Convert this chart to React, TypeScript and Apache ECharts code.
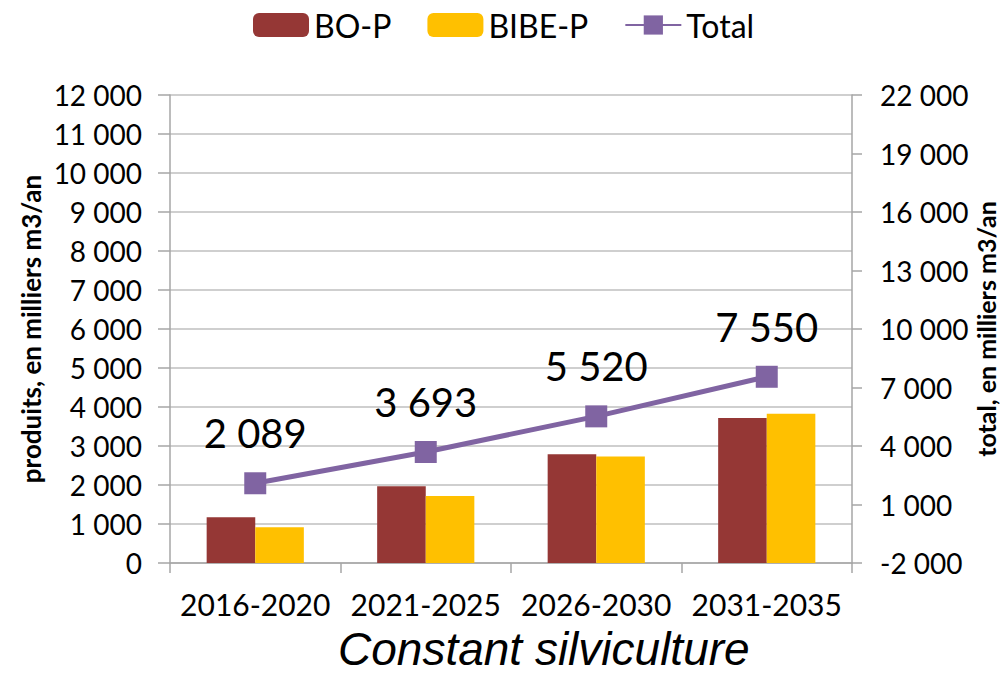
import React, { useEffect, useRef } from "react";
import * as echarts from "echarts";

const categories = ["2016-2020", "2021-2025", "2026-2030", "2031-2035"];
const boP = [1170, 1970, 2790, 3720];
const bibeP = [919, 1720, 2730, 3830];
const total = [2089, 3693, 5520, 7550];
const rightTicks = [-2000, 1000, 4000, 7000, 10000, 13000, 16000, 19000, 22000];

const fmt = (v: number) => {
  const s = Math.abs(Math.round(v)).toString().replace(/\B(?=(\d{3})+(?!\d))/g, " ");
  return (v < 0 ? "-" : "") + s;
};

const FONT = "Lato";
const AXIS = "#A6A6A6";
const GRID = "#BFBFBF";

export default function App() {
  const ref = useRef<HTMLDivElement>(null);
  useEffect(() => {
    if (!ref.current) return;
    const chart = echarts.init(ref.current, null, { renderer: "svg" });
    chart.setOption({
      animation: false,
      backgroundColor: "#ffffff",
      title: {
        text: "Constant silviculture",
        left: 338,
        top: 628,
        padding: 0,
        textStyle: {
          fontSize: 46,
          lineHeight: 42,
          fontStyle: "italic",
          fontWeight: "normal",
          fontFamily: "Liberation Sans",
          color: "#000",
        },
      },
      legend: {
        left: 248,
        top: 4,
        itemWidth: 56,
        itemHeight: 24,
        itemGap: 36,
        textStyle: { fontSize: 32, fontFamily: FONT, color: "#000" },
        data: ["BO-P", "BIBE-P", "Total"],
      },
      grid: {
        left: 170,
        right: 150,
        top: 95,
        bottom: 112,
        containLabel: false,
        outerBoundsMode: "none",
      },
      xAxis: {
        type: "category",
        data: categories,
        boundaryGap: true,
        axisLine: { lineStyle: { color: AXIS, width: 1.5 } },
        axisTick: { show: true, length: 10, lineStyle: { color: AXIS, width: 1.5 } },
        axisLabel: { interval: 0, fontSize: 30, fontFamily: FONT, color: "#000", margin: 26 },
      },
      yAxis: [
        {
          type: "value",
          min: 0,
          max: 12000,
          interval: 1000,
          position: "left",
          name: "produits, en milliers m3/an",
          nameLocation: "middle",
          nameGap: 126,
          nameRotate: 90,
          nameMoveOverlap: false,
          nameTextStyle: { fontSize: 26, fontWeight: "bold", fontFamily: FONT, color: "#000" },
          axisLine: { show: true, lineStyle: { color: AXIS, width: 1.5 } },
          axisTick: { show: true, length: 12, lineStyle: { color: AXIS, width: 1.5 } },
          axisLabel: { fontSize: 28, fontFamily: FONT, color: "#000", margin: 28, formatter: (v: number) => fmt(v) },
          splitLine: { show: true, lineStyle: { color: GRID, width: 1.5 } },
        },
        {
          type: "value",
          min: -2000,
          max: 22000,
          position: "right",
          name: "total, en milliers m3/an",
          nameLocation: "middle",
          nameGap: 121,
          nameRotate: 90,
          nameMoveOverlap: false,
          nameTextStyle: { fontSize: 25, fontWeight: "bold", fontFamily: FONT, color: "#000" },
          axisLine: { show: true, lineStyle: { color: AXIS, width: 1.5 } },
          axisTick: { show: true, length: 10, customValues: rightTicks, lineStyle: { color: AXIS, width: 1.5 } },
          axisLabel: {
            fontSize: 28,
            fontFamily: FONT,
            color: "#000",
            margin: 28,
            customValues: rightTicks,
            formatter: (v: number) => fmt(v),
          },
          splitLine: { show: false },
        },
      ],
      series: [
        {
          name: "BO-P",
          type: "bar",
          data: boP,
          itemStyle: { color: "#953735" },
          barGap: "0%",
          barCategoryGap: "43%",
        },
        {
          name: "BIBE-P",
          type: "bar",
          data: bibeP,
          itemStyle: { color: "#FFC000" },
          barGap: "0%",
          barCategoryGap: "43%",
        },
        {
          name: "Total",
          type: "line",
          yAxisIndex: 1,
          data: total,
          symbol: "rect",
          symbolSize: 22,
          lineStyle: { color: "#8064A2", width: 5 },
          itemStyle: { color: "#8064A2" },
          label: {
            show: true,
            position: "top",
            distance: 19,
            fontSize: 40,
            fontFamily: FONT,
            color: "#000",
            formatter: (p: any) => fmt(p.value),
          },
        },
      ],
    });
    return () => chart.dispose();
  }, []);
  return (
    <div
      ref={ref}
      style={{ position: "absolute", left: 0, top: 0, width: 1002, height: 675 }}
    />
  );
}
